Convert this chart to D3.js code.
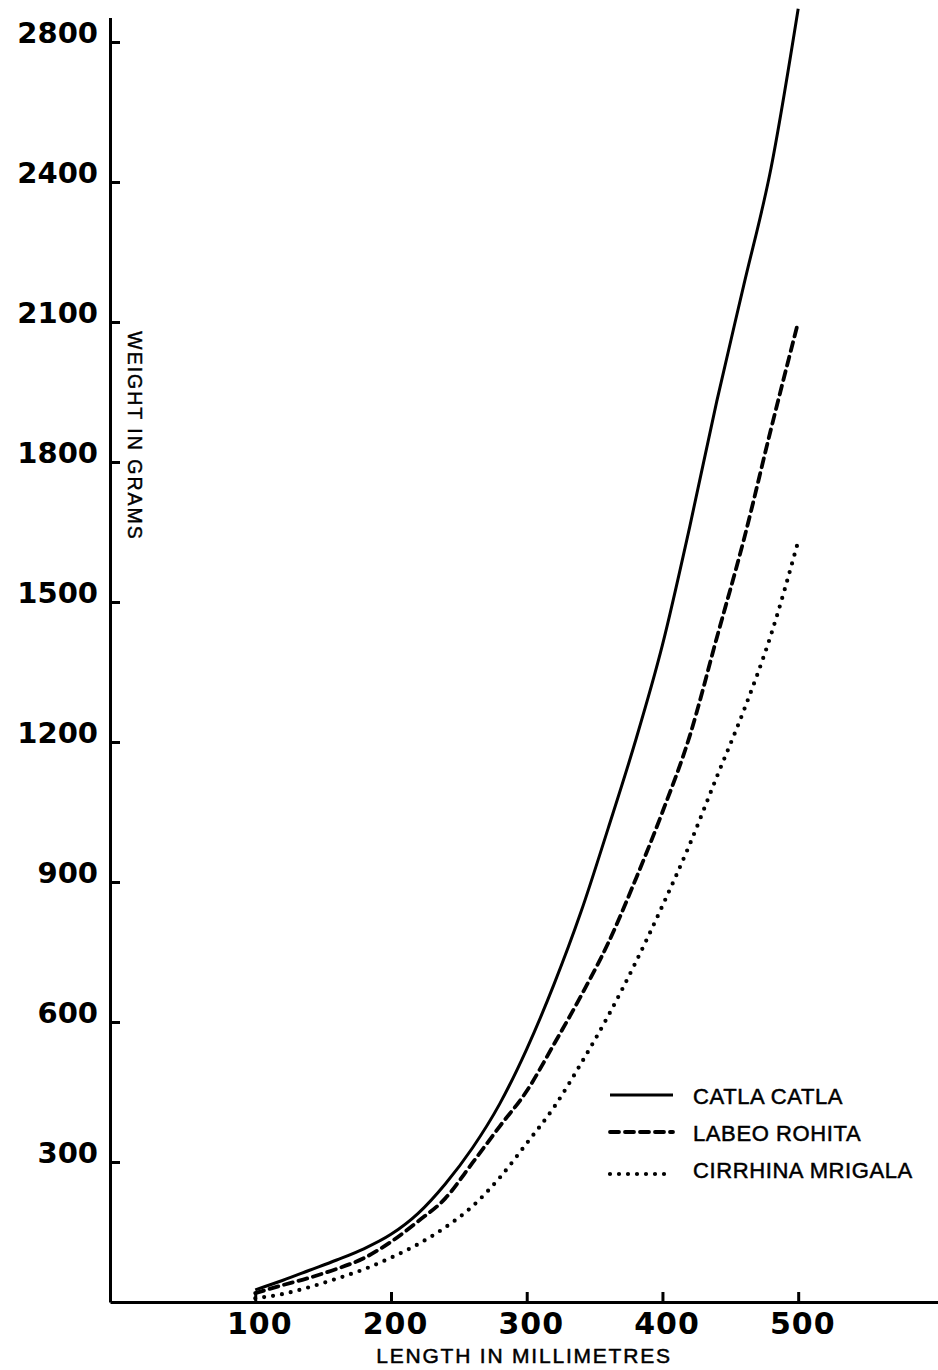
<!DOCTYPE html>
<html>
<head>
<meta charset="utf-8">
<script src="https://cdn.jsdelivr.net/npm/d3@7"></script>
<style>
  html, body { margin: 0; padding: 0; background: #fff; }
  svg { display: block; }
</style>
</head>
<body>
<svg id="chart" width="938" height="1370"></svg>
<script>
// lengths (mm) at which the three curves were read
const lengths = [100, 120, 140, 160, 180, 200, 220, 240, 260, 280, 300, 320, 340, 360, 380, 400, 420, 440, 460, 480, 500];
const catlaWeights = [26, 46, 68, 90, 114, 145, 190, 253, 330, 424, 542, 680, 836, 1015, 1201, 1408, 1660, 1930, 2180, 2440, 2895];
const labeoWeights = [19, 36, 52, 71, 94, 129, 173, 222, 298, 376, 452, 552, 656, 769, 904, 1050, 1212, 1423, 1634, 1871, 2100];
const mrigalaWeights = [8, 17, 32, 50, 70, 95, 124, 160, 205, 266, 340, 417, 511, 613, 726, 849, 980, 1125, 1268, 1430, 1630];
const speciesNames = ["CATLA CATLA", "LABEO ROHITA", "CIRRHINA MRIGALA"];

const weightTicks = [300, 600, 900, 1200, 1500, 1800, 2100, 2400, 2800];
const lengthTicks = [100, 200, 300, 400, 500];

const svg = d3.select("#chart");
const width = +svg.attr("width");
const height = +svg.attr("height");

// the printed weight axis jumps from 2400 to 2800 with the same spacing
const x = d3.scaleLinear().domain([-7, 603]).range([110, width]);
const y = d3.scaleLinear().domain([0, 2400, 2870]).range([1302, 182, 17.5]);

const series = [
  { name: speciesNames[0], weights: catlaWeights, width: 3, dash: null, cap: "butt", legendDy: 0 },
  { name: speciesNames[1], weights: labeoWeights, width: 3.8, dash: "9 6", cap: "round", legendDy: 0 },
  { name: speciesNames[2], weights: mrigalaWeights, width: 4.2, dash: "0 9", cap: "round", legendDy: 5 }
];

// eixos
const xAxis = d3.axisBottom(x)
  .tickValues(lengthTicks)
  .tickSizeInner(-10)
  .tickSizeOuter(0)
  .tickPadding(11);

svg.append("g")
  .attr("transform", `translate(0,${y(0)})`)
  .call(xAxis)
  .call(g => g.select(".domain").attr("stroke", "#000").attr("stroke-width", 3))
  .call(g => g.selectAll(".tick line").attr("stroke", "#000").attr("stroke-width", 3))
  .call(g => g.selectAll(".tick text")
    .attr("fill", "#000")
    .attr("dx", 4)
    .style("font-family", "'DejaVu Sans'")
    .style("font-weight", "bold")
    .style("font-size", "30px")
    .style("letter-spacing", "1px"));

const yAxis = d3.axisLeft(y)
  .tickValues(weightTicks)
  .tickFormat(d3.format("d"))
  .tickSizeInner(-10)
  .tickSizeOuter(0)
  .tickPadding(12);

svg.append("g")
  .attr("transform", `translate(${x(-7)},0)`)
  .call(yAxis)
  .call(g => g.select(".domain").attr("stroke", "#000").attr("stroke-width", 3))
  .call(g => g.selectAll(".tick line").attr("stroke", "#000").attr("stroke-width", 3))
  .call(g => g.selectAll(".tick text")
    .attr("fill", "#000")
    .attr("dy", 0)
    .style("font-family", "'DejaVu Sans'")
    .style("font-weight", "bold")
    .style("font-size", "29px"));

// curvas
const line = d3.line()
  .x((d, i) => x(lengths[i]))
  .y(d => y(d))
  .curve(d3.curveMonotoneX);

svg.append("g")
  .selectAll("path")
  .data(series)
  .join("path")
  .attr("d", d => line(d.weights))
  .attr("fill", "none")
  .attr("stroke", "#000")
  .attr("stroke-width", d => d.width)
  .attr("stroke-dasharray", d => d.dash)
  .attr("stroke-linecap", d => d.cap);

// títulos dos eixos
svg.append("text")
  .attr("x", 524)
  .attr("y", 1363)
  .attr("text-anchor", "middle")
  .style("font-family", "'Liberation Sans'")
  .style("font-size", "21px")
  .style("letter-spacing", "1.8px")
  .style("stroke", "#000")
  .style("stroke-width", "0.5px")
  .text("LENGTH IN MILLIMETRES");

svg.append("text")
  .attr("transform", "translate(128,436) rotate(90)")
  .attr("text-anchor", "middle")
  .style("font-family", "'Liberation Sans'")
  .style("font-size", "19.5px")
  .style("letter-spacing", "2px")
  .style("stroke", "#000")
  .style("stroke-width", "0.4px")
  .text("WEIGHT IN GRAMS");

// legenda
const legend = svg.append("g").attr("transform", "translate(610,1095)");

const item = legend.selectAll("g")
  .data(series)
  .join("g")
  .attr("transform", (d, i) => `translate(0,${i * 37})`);

item.append("line")
  .attr("x1", 0)
  .attr("x2", 63)
  .attr("y1", d => d.legendDy)
  .attr("y2", d => d.legendDy)
  .attr("stroke", "#000")
  .attr("stroke-width", d => d.width)
  .attr("stroke-dasharray", d => d.dash)
  .attr("stroke-linecap", d => d.cap);

item.append("text")
  .attr("x", 83)
  .attr("y", 9)
  .style("font-family", "'Liberation Sans'")
  .style("font-size", "22px")
  .style("letter-spacing", "0.6px")
  .style("stroke", "#000")
  .style("stroke-width", "0.5px")
  .text(d => d.name);
</script>
</body>
</html>
